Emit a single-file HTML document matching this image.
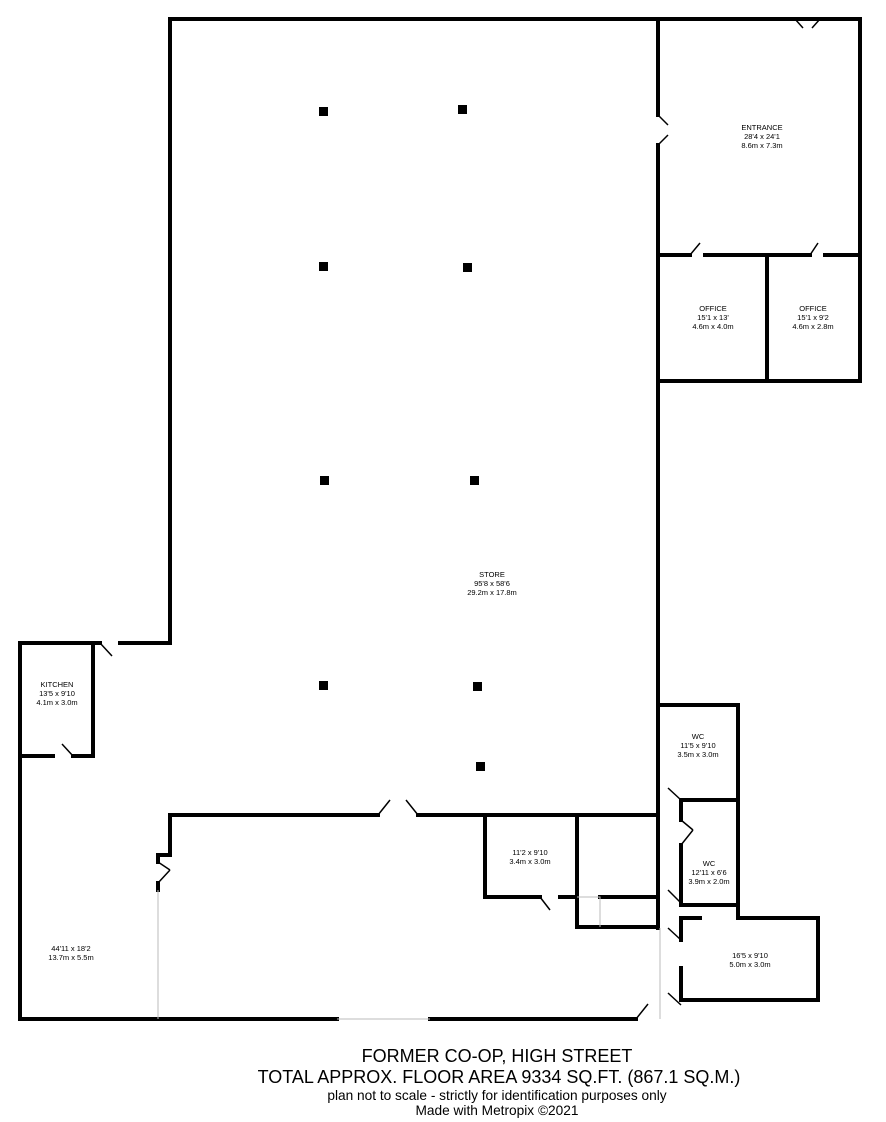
<!DOCTYPE html>
<html><head><style>body{margin:0;background:#fff}svg{display:block}text{font-family:"Liberation Sans",sans-serif;fill:#000}</style></head><body>
<svg width="886" height="1122" viewBox="0 0 886 1122" xmlns="http://www.w3.org/2000/svg">
<g stroke="#000" stroke-width="4" fill="none" stroke-linecap="square">
<path d="M170 643 V19 H860 V381 H658 V705"/>
<path d="M658 19 V115 M658 145 V381 M658 255 H690 M705 255 H810 M825 255 H860"/>
<path d="M767 255 V381"/>
<path d="M658 705 H738 V918 H818 V1000 H681 V968"/>
<path d="M681 940 V918 H700"/>
<path d="M681 800 H738 M681 905 H738 M681 800 V820 M681 845 V905"/>
<path d="M658 705 V928"/>
<path d="M170 815 H378 M418 815 H658"/>
<path d="M485 815 V897 H540 M560 897 H577 M577 815 V927 H658 M600 897 H658"/>
<path d="M20 643 H100 M120 643 H170 M20 643 V1019 H337 M430 1019 H636"/>
<path d="M93 643 V756 H73 M53 756 H20"/>
<path d="M170 815 V855 H158 V862 M158 883 V890"/>
</g>
<g stroke="#000" stroke-width="1.5" fill="none">
<path d="M170 40V55M170 95V115M170 145V180"/>
<path d="M198 19H278M680 19H760"/>
<path d="M658 115 L668 125 M658 145 L668 135"/>
<path d="M690 255 L700 243 M810 255 L818 243"/>
<path d="M795 19 L803 28 M820 19 L812 28"/>
<path d="M378 815 L390 800 M418 815 L406 800"/>
<path d="M100 643 L112 656 M73 756 L62 744"/>
<path d="M540 897 L550 910 M158 862 L170 870 M158 883 L170 870"/>
<path d="M681 820 L693 830 M681 845 L693 830 M681 940 L668 928 M681 800 L668 788 M681 903 L668 890"/>
<path d="M636 1019 L648 1004 M681 1005 L668 993"/>
</g>
<g stroke="#bbb" stroke-width="1" fill="none">
<path d="M158 890 V1019 M337 1019 H430 M660 928 V1019 M577 897 H600 V927"/>
</g>
<g fill="#000">
<rect x="319" y="107" width="9" height="9"/><rect x="458" y="105" width="9" height="9"/>
<rect x="319" y="262" width="9" height="9"/><rect x="463" y="263" width="9" height="9"/>
<rect x="320" y="476" width="9" height="9"/><rect x="470" y="476" width="9" height="9"/>
<rect x="319" y="681" width="9" height="9"/><rect x="473" y="682" width="9" height="9"/>
<rect x="476" y="762" width="9" height="9"/>
</g>
<g font-size="7.5" text-anchor="middle">
<text x="762" y="130">ENTRANCE</text><text x="762" y="139">28'4 x 24'1</text><text x="762" y="148">8.6m x 7.3m</text>
<text x="713" y="311">OFFICE</text><text x="713" y="320">15'1 x 13'</text><text x="713" y="329">4.6m x 4.0m</text>
<text x="813" y="311">OFFICE</text><text x="813" y="320">15'1 x 9'2</text><text x="813" y="329">4.6m x 2.8m</text>
<text x="492" y="577">STORE</text><text x="492" y="586">95'8 x 58'6</text><text x="492" y="595">29.2m x 17.8m</text>
<text x="57" y="687">KITCHEN</text><text x="57" y="696">13'5 x 9'10</text><text x="57" y="705">4.1m x 3.0m</text>
<text x="698" y="739">WC</text><text x="698" y="748">11'5 x 9'10</text><text x="698" y="757">3.5m x 3.0m</text>
<text x="709" y="866">WC</text><text x="709" y="875">12'11 x 6'6</text><text x="709" y="884">3.9m x 2.0m</text>
<text x="530" y="855">11'2 x 9'10</text><text x="530" y="864">3.4m x 3.0m</text>
<text x="750" y="958">16'5 x 9'10</text><text x="750" y="967">5.0m x 3.0m</text>
<text x="71" y="951">44'11 x 18'2</text><text x="71" y="960">13.7m x 5.5m</text>
</g>
<g text-anchor="middle">
<text x="497" y="1062" font-size="18">FORMER CO-OP, HIGH STREET</text>
<text x="499" y="1083" font-size="18">TOTAL APPROX. FLOOR AREA 9334 SQ.FT. (867.1 SQ.M.)</text>
<text x="497" y="1100" font-size="13.7">plan not to scale - strictly for identification purposes only</text>
<text x="497" y="1115" font-size="13.7">Made with Metropix ©2021</text>
</g>
</svg>
</body></html>
